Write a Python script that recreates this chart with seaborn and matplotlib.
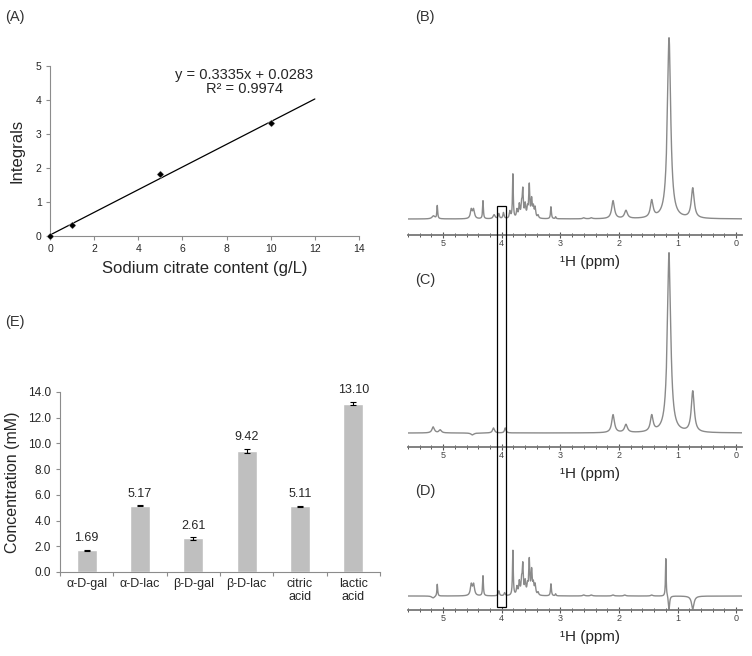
import numpy as np
import pandas as pd
import matplotlib
matplotlib.use("Agg")
import matplotlib.pyplot as plt
from matplotlib.patches import Rectangle
from matplotlib.ticker import FixedLocator, MultipleLocator
import seaborn as sns

sns.set_theme(style="white")
plt.rcParams['font.family'] = ['Liberation Sans', 'DejaVu Sans']

# --- (A) calibration: sodium citrate ---
citrate_x = [0, 1, 5, 10]
citrate_y = [0.0, 0.33, 1.82, 3.31]
fit_slope = 0.3335
fit_intercept = 0.0283
fit_r2 = 0.9974
fit_x_end = 12

# --- (E) concentrations ---
compounds = ["α-D-gal", "α-D-lac", "β-D-gal", "β-D-lac", "citric\nacid", "lactic\nacid"]
conc = [1.69, 5.17, 2.61, 9.42, 5.11, 13.10]
conc_err = [0.05, 0.03, 0.10, 0.18, 0.04, 0.12]

# --- (B)-(D) 1H spectra, peak lists: ppm, height, half width (ppm) ---
b_ppm = [5.165, 5.10, 4.52, 4.48, 4.32, 4.13, 4.05, 3.97, 3.86, 3.81, 3.74, 3.70, 3.66, 3.64,
         3.60, 3.56, 3.53, 3.49, 3.46, 3.43, 3.38, 3.16, 3.08, 2.60, 2.47, 2.10, 1.88, 1.44,
         1.145, 0.74]
b_height = [3, 13, 9, 9, 18, 4, 5, 6, 7, 44, 8, 13, 13, 26, 13, 9, 32, 18, 10, 10, 3, 12, 2,
            1, 1, 18, 8, 17, 181, 30]
b_width = [0.03, 0.008, 0.018, 0.018, 0.008, 0.02, 0.012, 0.012, 0.012, 0.008, 0.012, 0.012,
           0.012, 0.01, 0.012, 0.012, 0.01, 0.012, 0.012, 0.012, 0.012, 0.009, 0.008, 0.02,
           0.02, 0.028, 0.03, 0.028, 0.034, 0.03]

c_ppm = [5.17, 5.05, 4.50, 4.14, 3.94, 2.10, 1.88, 1.44, 1.145, 0.74]
c_height = [6, 3, -2, 5, 5, 18, 8, 16, 180, 41]
c_width = [0.025, 0.025, 0.03, 0.02, 0.015, 0.028, 0.03, 0.028, 0.034, 0.03]

d_ppm = [5.17, 5.10, 4.52, 4.48, 4.32, 4.05, 3.95, 3.81, 3.74, 3.70, 3.66, 3.64, 3.60, 3.56,
         3.53, 3.49, 3.46, 3.43, 3.38, 3.16, 3.08, 2.60, 2.47, 2.10, 1.90, 1.44, 1.20, 1.145, 0.74]
d_height = [-2, 12, 11, 11, 20, 5, 3, 45, 8, 13, 14, 28, 13, 9, 34, 24, 10, 10, 3, 12, 2,
            1, 1, 1, 1, 1, 38, -14, -13]
d_width = [0.03, 0.008, 0.018, 0.018, 0.008, 0.012, 0.012, 0.008, 0.012, 0.012, 0.012, 0.01,
           0.012, 0.012, 0.01, 0.012, 0.012, 0.012, 0.012, 0.009, 0.008, 0.02, 0.02, 0.02,
           0.02, 0.02, 0.007, 0.012, 0.025]

box_ppm = (4.08, 3.93)

SPEC_COLOR = '#8a8a8a'
AXIS_GREY = '#8c8c8c'
W, H = 752, 656


def px_rect(left, top, right, bottom):
    # figure fraction from pixel edges
    return [left / W, 1 - bottom / H, (right - left) / W, (bottom - top) / H]


def spectrum(grid, centers, heights, widths):
    y = np.zeros_like(grid)
    for c, h, w in zip(centers, heights, widths):
        y += h * w ** 2 / ((grid - c) ** 2 + w ** 2)
    return y


fig = plt.figure(figsize=(W / 100, H / 100), dpi=100)

# ---------- (A) ----------
axA = fig.add_axes(px_rect(50, 66, 359, 236))
fit_x = [0, fit_x_end]
fit_y = [fit_slope * x + fit_intercept for x in fit_x]
sns.lineplot(x=fit_x, y=fit_y, color='black', lw=0.9, ax=axA)
sns.scatterplot(x=citrate_x, y=citrate_y, marker='D', s=14, color='black', ax=axA,
                zorder=3, clip_on=False)
axA.set_xlim(0, 14)
axA.set_ylim(0, 5)
axA.set_xticks(range(0, 15, 2))
axA.set_yticks(range(0, 6))
axA.text(8.8, 4.53, f"y = {fit_slope}x + {fit_intercept}\nR² = {fit_r2}",
         ha='center', va='center', fontsize=10.5, linespacing=1.0)
axA.set_xlabel("Sodium citrate content (g/L)", fontsize=12, labelpad=5)
axA.set_ylabel("Integrals", fontsize=12, labelpad=8)
for s in ['top', 'right']:
    axA.spines[s].set_visible(False)
for s in ['left', 'bottom']:
    axA.spines[s].set_color(AXIS_GREY)
    axA.spines[s].set_linewidth(0.8)
axA.tick_params(labelsize=7.5, length=3, width=0.8, color=AXIS_GREY, direction='out',
                bottom=True, left=True, pad=3)

# ---------- (E) ----------
axE = fig.add_axes(px_rect(60, 392, 380, 572))
df = pd.DataFrame({'compound': compounds, 'conc': conc})
sns.barplot(data=df, x='compound', y='conc', color='#bfbfbf', saturation=1, width=0.38,
            errorbar=None, ax=axE)
axE.errorbar(range(len(conc)), conc, yerr=conc_err, fmt='none', ecolor='black',
             elinewidth=0.8, capsize=2, capthick=0.8)
for i, (v, e) in enumerate(zip(conc, conc_err)):
    axE.annotate(f"{v:.2f}", (i, v + e), xytext=(0, 4), textcoords='offset points',
                 ha='center', va='bottom', fontsize=9)
axE.set_xlim(-0.5, len(conc) - 0.5)
axE.set_ylim(0, 14)
axE.set_yticks(np.arange(0, 15, 2))
axE.set_yticklabels([f"{t:.1f}" for t in np.arange(0, 15, 2)])
axE.xaxis.set_minor_locator(FixedLocator([i - 0.5 for i in range(len(conc) + 1)]))
axE.set_xlabel("")
axE.set_ylabel("Concentration (mM)", fontsize=11.5, labelpad=6)
for s in ['top', 'right']:
    axE.spines[s].set_visible(False)
for s in ['left', 'bottom']:
    axE.spines[s].set_color(AXIS_GREY)
    axE.spines[s].set_linewidth(0.8)
axE.tick_params(axis='y', labelsize=8.5, length=3, width=0.8, color=AXIS_GREY, left=True)
axE.tick_params(axis='x', which='major', labelsize=9, length=0, pad=4)
axE.tick_params(axis='x', which='minor', length=3, width=0.8, color=AXIS_GREY, bottom=True)

# ---------- (B)-(D) spectra ----------
ppm_grid = np.linspace(-0.1, 5.6, 6000)
spec_panels = [
    (px_rect(408, 30, 742, 235), (b_ppm, b_height, b_width), (-16, 189)),
    (px_rect(408, 245, 742, 447), (c_ppm, c_height, c_width), (-14, 188)),
    (px_rect(408, 420, 742, 610), (d_ppm, d_height, d_width), (-14, 176)),
]
spec_axes = []
for rect, peaks, ylim in spec_panels:
    ax = fig.add_axes(rect)
    ax.patch.set_alpha(0)
    sns.lineplot(x=ppm_grid, y=spectrum(ppm_grid, *peaks), color=SPEC_COLOR, lw=1.0,
                 estimator=None, sort=False, ax=ax)
    ax.set_xlim(5.6, -0.1)
    ax.set_ylim(*ylim)
    ax.set_yticks([])
    ax.set_xticks(range(0, 6))
    ax.xaxis.set_minor_locator(MultipleLocator(0.2))
    for s in ['top', 'right', 'left']:
        ax.spines[s].set_visible(False)
    ax.spines['bottom'].set_color('#777777')
    ax.spines['bottom'].set_linewidth(1.3)
    ax.tick_params(axis='x', which='major', labelsize=6.5, labelcolor='#444444', length=4,
                   width=0.8, color='#555555', direction='inout', bottom=True, pad=1)
    ax.tick_params(axis='x', which='minor', length=2.5, width=0.7, color='#555555',
                   direction='inout', bottom=True)
    ax.set_xlabel("¹H (ppm)", fontsize=11)
    ax_h = rect[3] * H
    ax.xaxis.set_label_coords((5.6 - 2.5) / 5.7, -20 / ax_h)
    spec_axes.append(ax)

# box marking the 4.0 ppm region across B-D
axB, axD = spec_axes[0], spec_axes[2]
p_top = fig.transFigure.inverted().transform(axB.transData.transform((box_ppm[0], 13)))
p_bot = fig.transFigure.inverted().transform(axD.transData.transform((box_ppm[1], -11)))
fig.add_artist(Rectangle((p_top[0], p_bot[1]), p_bot[0] - p_top[0], p_top[1] - p_bot[1],
                         transform=fig.transFigure, fill=False, ec='black', lw=0.9, zorder=10))

# panel letters
for lab, x, y in [("(A)", 5, 17), ("(B)", 415, 17), ("(C)", 415, 280), ("(D)", 415, 491),
                  ("(E)", 5, 322)]:
    fig.text(x / W, 1 - y / H, lab, fontsize=10.5, color='#333333', va='center', ha='left')

fig.savefig("out.png", dpi=100)
